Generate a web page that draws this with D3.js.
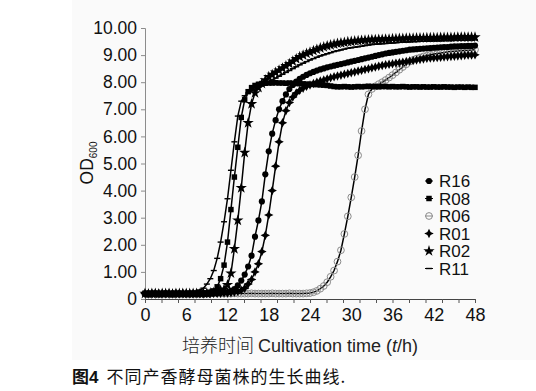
<!DOCTYPE html>
<html><head><meta charset="utf-8">
<script src="https://cdn.jsdelivr.net/npm/d3@7"></script>
<style>
html,body{margin:0;padding:0;background:#fff;}
svg{display:block;}
</style></head>
<body>
<svg id="chart" width="536" height="391"></svg>
<script>
// Time points (h), every 0.5 h from 0 to 48
const times = d3.range(0, 48.25, 0.5);
const seriesNames = ["R16", "R08", "R06", "R01", "R02", "R11"];
const yTickValues = [0,1,2,3,4,5,6,7,8,9,10];
const xLabelValues = [0,6,12,18,24,30,36,42,48];
const xMinorTicks = [0,2.4,4.8,7.2,9.6,12,14.4,16.8,19.2,21.6,24,26.4,28.8,31.2,33.6,36,38.4,40.8,43.2,45.6,48];

const R16 = [
 0.2,0.2,0.21,0.2,0.2,0.2,0.21,0.2,0.2,0.2,0.21,0.2,
 0.2,0.2,0.21,0.2,0.2,0.21,0.21,0.21,0.22,0.22,0.23,0.24,
 0.25,0.3,0.37,0.5,0.68,0.9,1.2,1.6,2.3,2.9,3.6,4.6,
 5.45,6.1,6.6,7.0,7.3,7.55,7.75,7.9,8.02,8.12,8.2,8.27,
 8.33,8.38,8.43,8.47,8.51,8.55,8.58,8.61,8.64,8.67,8.7,8.73,
 8.76,8.79,8.82,8.85,8.88,8.91,8.94,8.97,9.0,9.03,9.06,9.08,
 9.1,9.12,9.14,9.16,9.18,9.2,9.21,9.22,9.23,9.24,9.25,9.26,
 9.27,9.28,9.29,9.3,9.3,9.31,9.32,9.32,9.33,9.33,9.34,9.34,
 9.35];
const R08 = [
 0.21,0.2,0.2,0.21,0.2,0.2,0.21,0.2,0.2,0.21,0.2,0.2,
 0.2,0.21,0.2,0.21,0.2,0.21,0.22,0.25,0.3,0.45,0.75,1.25,
 2.1,3.3,4.5,5.6,6.7,7.35,7.65,7.8,7.88,7.92,7.95,7.96,
 7.97,7.97,7.98,7.97,7.97,7.96,7.97,7.96,7.95,7.95,7.94,7.93,
 7.92,7.92,7.91,7.9,7.89,7.88,7.86,7.84,7.83,7.83,7.84,7.83,
 7.82,7.83,7.84,7.83,7.84,7.85,7.84,7.84,7.83,7.84,7.84,7.83,
 7.84,7.83,7.83,7.84,7.83,7.82,7.83,7.83,7.82,7.83,7.82,7.82,
 7.83,7.82,7.82,7.83,7.82,7.82,7.81,7.82,7.82,7.81,7.82,7.81,
 7.81];
const R06 = [
 0.2,0.2,0.2,0.2,0.21,0.2,0.2,0.2,0.2,0.21,0.2,0.2,
 0.2,0.2,0.2,0.21,0.2,0.2,0.2,0.2,0.21,0.2,0.2,0.2,
 0.2,0.2,0.21,0.2,0.2,0.2,0.2,0.21,0.2,0.2,0.2,0.2,
 0.2,0.21,0.2,0.2,0.2,0.2,0.21,0.2,0.2,0.2,0.2,0.21,
 0.22,0.25,0.3,0.38,0.48,0.62,0.82,1.05,1.38,1.8,2.4,3.05,
 3.75,4.5,5.3,6.2,7.0,7.55,7.75,7.85,7.93,8.0,8.08,8.17,
 8.26,8.36,8.46,8.56,8.66,8.76,8.82,8.87,8.91,8.95,8.98,9.01,
 9.04,9.06,9.08,9.1,9.12,9.13,9.14,9.15,9.16,9.17,9.18,9.19,
 9.2];
const R01 = [
 0.2,0.2,0.2,0.21,0.2,0.2,0.2,0.21,0.2,0.2,0.2,0.21,
 0.2,0.2,0.2,0.21,0.2,0.2,0.21,0.2,0.21,0.21,0.21,0.22,
 0.22,0.23,0.25,0.28,0.32,0.4,0.55,0.72,1.0,1.3,1.75,2.35,
 3.1,4.0,4.9,5.8,6.5,6.95,7.25,7.45,7.6,7.7,7.78,7.85,
 7.9,7.95,8.0,8.04,8.08,8.12,8.16,8.2,8.23,8.26,8.29,8.32,
 8.35,8.38,8.41,8.44,8.47,8.5,8.53,8.56,8.59,8.62,8.64,8.66,
 8.68,8.7,8.72,8.74,8.76,8.78,8.8,8.82,8.84,8.86,8.88,8.89,
 8.9,8.91,8.92,8.93,8.94,8.95,8.96,8.97,8.98,8.99,9.0,9.0,
 9.01];
const R02 = [
 0.2,0.19,0.2,0.2,0.19,0.2,0.2,0.2,0.19,0.2,0.2,0.2,
 0.2,0.2,0.2,0.2,0.2,0.21,0.2,0.22,0.24,0.28,0.32,0.36,
 0.52,0.95,1.85,2.9,4.1,5.4,6.5,7.2,7.6,7.8,7.95,8.08,
 8.2,8.28,8.36,8.44,8.52,8.6,8.68,8.77,8.86,8.94,9.0,9.06,
 9.11,9.16,9.21,9.26,9.3,9.34,9.37,9.4,9.43,9.45,9.47,9.49,
 9.5,9.52,9.53,9.54,9.55,9.56,9.57,9.57,9.58,9.58,9.59,9.59,
 9.6,9.6,9.61,9.61,9.62,9.62,9.62,9.63,9.63,9.63,9.64,9.64,
 9.64,9.64,9.65,9.65,9.65,9.65,9.65,9.66,9.66,9.66,9.66,9.66,
 9.66];
const R11 = [
 0.2,0.2,0.21,0.2,0.2,0.21,0.2,0.2,0.21,0.2,0.21,0.21,
 0.21,0.22,0.25,0.28,0.33,0.4,0.55,0.75,1.05,1.5,2.1,2.85,
 3.7,4.75,5.8,6.75,7.3,7.5,7.6,7.68,7.75,7.82,7.9,7.96,
 8.02,8.08,8.15,8.22,8.29,8.36,8.43,8.5,8.57,8.64,8.7,8.76,
 8.82,8.87,8.92,8.97,9.01,9.05,9.09,9.13,9.16,9.19,9.22,9.25,
 9.27,9.29,9.31,9.33,9.35,9.37,9.39,9.4,9.41,9.42,9.43,9.44,
 9.45,9.46,9.47,9.48,9.48,9.49,9.5,9.5,9.51,9.51,9.52,9.52,
 9.53,9.53,9.53,9.54,9.54,9.54,9.55,9.55,9.55,9.55,9.56,9.56,
 9.56];

const seriesValues = {R16, R08, R06, R01, R02, R11};

const svg = d3.select("#chart");
const FONT = "'Liberation Sans', Arial, sans-serif";
const CJK = "'Noto Sans CJK SC', sans-serif";

// faint figure background
svg.append("rect").attr("x",72).attr("y",0).attr("width",464).attr("height",360).attr("fill","#fafafa");

const x = d3.scaleLinear().domain([0,48]).range([145,475]);
const y = d3.scaleLinear().domain([0,10]).range([299,28]);

// custom symbols
const fourStar = {draw(ctx, size){
  const r = Math.sqrt(size)*0.75, s = r*0.34;
  ctx.moveTo(0,-r); ctx.lineTo(s,-s); ctx.lineTo(r,0); ctx.lineTo(s,s);
  ctx.lineTo(0,r); ctx.lineTo(-s,s); ctx.lineTo(-r,0); ctx.lineTo(-s,-s); ctx.closePath();
}};
const dashSym = {draw(ctx, size){
  const w = Math.sqrt(size)/2;
  ctx.moveTo(-w,-0.7); ctx.lineTo(w,-0.7); ctx.lineTo(w,0.7); ctx.lineTo(-w,0.7); ctx.closePath();
}};

const styles = {
  R16:{type:d3.symbolCircle, size:30, fill:"#000", stroke:"none"},
  R08:{type:d3.symbolSquare, size:30, fill:"#000", stroke:"none"},
  R06:{type:d3.symbolCircle, size:36, fill:"none", stroke:"#8a8a8a"},
  R01:{type:fourStar, size:40, fill:"#000", stroke:"none"},
  R02:{type:d3.symbolStar, size:40, fill:"#000", stroke:"none"},
  R11:{type:dashSym, size:36, fill:"#000", stroke:"none"}
};

// axes
const yAxis = d3.axisLeft(y).tickValues(yTickValues).tickSize(4).tickPadding(4)
  .tickFormat(d => d === 0 ? "0" : d.toFixed(2));
const gy = svg.append("g").attr("transform","translate(145,0)").call(yAxis);
gy.select(".domain").attr("stroke","#8c8c8c");
gy.selectAll(".tick line").attr("stroke","#8c8c8c");
gy.selectAll("text").attr("font-family",FONT).attr("font-size","17.5px").attr("fill","#111");

const gx = svg.append("g").attr("transform","translate(0,299)")
  .call(d3.axisBottom(x).tickValues(xMinorTicks).tickSize(4).tickFormat(""));
gx.select(".domain").attr("stroke","#444");
gx.selectAll(".tick line").attr("stroke","#555");
const gxl = svg.append("g").attr("transform","translate(0,299)")
  .call(d3.axisBottom(x).tickValues(xLabelValues).tickSize(0).tickPadding(9).tickFormat(d3.format("d")));
gxl.select(".domain").remove();
gxl.selectAll("text").attr("font-family",FONT).attr("font-size","18px").attr("fill","#111");

// series
const line = d3.line().x((d,i)=>x(times[i])).y(d=>y(d));
const drawOrder = ["R06","R01","R16","R08","R11","R02"];
drawOrder.forEach(name=>{
  const vals = seriesValues[name];
  const st = styles[name];
  const g = svg.append("g");
  g.append("path").attr("d", line(vals)).attr("fill","none").attr("stroke","#000").attr("stroke-width",1.5);
  g.selectAll("path.m").data(vals).join("path").attr("class","m")
    .attr("transform",(d,i)=>`translate(${x(times[i])},${y(d)})`)
    .attr("d", d3.symbol().type(st.type).size(st.size))
    .attr("fill", st.fill).attr("stroke", st.stroke).attr("stroke-width", st.stroke==="none"?0:1);
});

// legend
const lg = svg.append("g");
seriesNames.forEach((name,i)=>{
  const yy = 181 + i*17.5;
  const st = styles[name];
  lg.append("line").attr("x1",425).attr("x2",433).attr("y1",yy).attr("y2",yy).attr("stroke", name==="R06"?"#8a8a8a":"#000").attr("stroke-width",1);
  lg.append("path").attr("transform",`translate(429,${yy})`)
    .attr("d", d3.symbol().type(st.type).size(st.size))
    .attr("fill", st.fill).attr("stroke", st.stroke).attr("stroke-width", st.stroke==="none"?0:1);
  lg.append("text").attr("x",439).attr("y",yy).attr("dy","0.36em")
    .attr("font-family",FONT).attr("font-size","17px").attr("fill","#111").text(name);
});

// y label OD600
const yl = svg.append("text").attr("transform","translate(93,163) rotate(-90)")
  .attr("text-anchor","middle").attr("font-family",FONT).attr("font-size","17.5px").attr("fill","#111");
yl.append("tspan").text("OD");
yl.append("tspan").attr("font-size","10px").attr("dy","4").text("600");

// x title
const xt = svg.append("text").attr("x",300).attr("y",352).attr("text-anchor","middle")
  .attr("font-size","18px").attr("fill","#222");
xt.append("tspan").attr("font-family",CJK).attr("font-weight","300").text("培养时间 ");
xt.append("tspan").attr("font-family",FONT).text("Cultivation time (");
xt.append("tspan").attr("font-family",FONT).attr("font-style","italic").text("t");
xt.append("tspan").attr("font-family",FONT).text("/h)");

// caption
const cap = svg.append("text").attr("x",72).attr("y",383).attr("font-size","17px").attr("fill","#111");
cap.append("tspan").attr("font-family",CJK).attr("font-weight","bold").text("图");
cap.append("tspan").attr("font-family",FONT).attr("font-weight","bold").text("4");
cap.append("tspan").attr("font-family",CJK).attr("dx","8").attr("letter-spacing","1px").text("不同产香酵母菌株的生长曲线.");
</script>
</body></html>
